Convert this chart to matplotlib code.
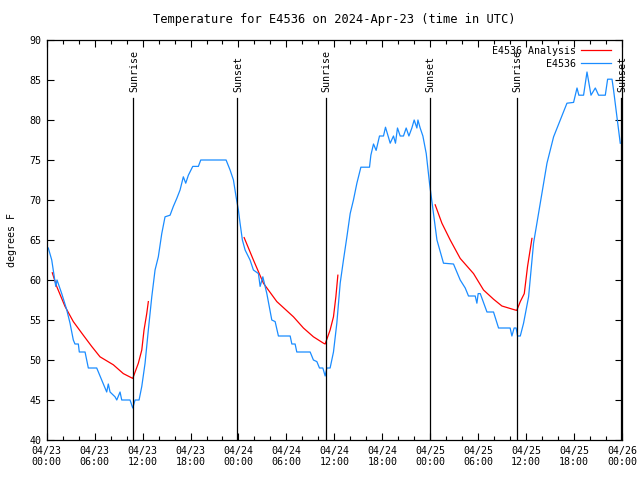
import matplotlib
matplotlib.use('Agg')
from matplotlib import pyplot as plt
from matplotlib.ticker import MultipleLocator

# observed temperature (hours since 04/23 00:00 UTC, deg F)
obs_hours = [0.2, 0.63, 0.83, 1.13, 1.29, 1.88, 2.5, 2.92, 3.33, 3.54, 3.96, 4.08, 4.8, 5.21,
             6.26, 6.67, 7.09, 7.51, 7.71, 7.93, 8.55, 8.77, 9.18, 9.39, 10.43, 10.77, 11.06,
             11.56, 11.9, 12.31, 12.72, 13.15, 13.56, 13.97, 14.4, 14.81, 15.44, 15.85, 16.28,
             16.69, 17.1, 17.4, 17.73, 18.28, 18.98, 19.28, 22.45, 22.95, 23.37, 23.7, 23.99,
             24.2, 24.49, 24.83, 25.45, 25.87, 26.5, 26.71, 27.05, 27.55, 28.17, 28.59, 29.0,
             30.47, 30.68, 31.09, 31.3, 32.97, 33.38, 33.81, 34.14, 34.56, 34.85, 35.06, 35.47,
             35.89, 36.31, 36.73, 37.14, 37.57, 37.98, 38.39, 38.82, 39.32, 40.4, 40.57, 40.9,
             41.23, 41.65, 42.15, 42.4, 42.99, 43.4, 43.65, 43.9, 44.24, 44.65, 44.99, 45.33,
             45.7, 45.99, 46.33, 46.46, 46.74, 47.08, 47.5, 47.78, 47.91, 48.62, 48.84, 49.66,
             50.91, 51.75, 52.38, 52.79, 53.63, 53.84, 54.0, 54.26, 55.1, 55.92, 56.55, 58.0,
             58.22, 58.5, 58.75, 58.93, 59.27, 59.68, 60.31, 60.93, 61.77, 62.61, 63.44, 64.28,
             65.11, 65.94, 66.37, 66.6, 67.19, 67.62, 68.12, 68.66, 69.07, 69.91, 70.2, 70.75,
             70.95, 71.37, 71.78]
obs_temp = [64, 62.5, 61.2, 59.2, 60, 58.3, 56.3, 54.6, 52.5, 52, 52, 51, 51, 49,
            49, 48, 47, 46, 47, 46, 45.4, 45, 46, 45, 45, 44, 45,
            45, 46.7, 49.6, 53.75, 57.9, 61.25, 62.9, 65.8, 67.9, 68.1, 69.2, 70.2,
            71.25, 72.9, 72.1, 73.1, 74.2, 74.2, 75, 75, 73.75, 72.5, 70.4, 68.75,
            67.1, 65, 63.75, 62.5, 61.25, 60.8, 59.2, 60.4, 58.3, 55, 54.8, 53,
            53, 52, 52, 51, 51, 50, 49.8, 49, 49, 48, 49, 49,
            51, 54.6, 59.6, 62.5, 65.4, 68.3, 70, 72.1, 74.1, 74.1, 75.6, 77,
            76.2, 78, 78, 79.1, 77.1, 78, 77.1, 79, 78, 78, 79, 78,
            79, 80, 79, 80, 79, 78, 75.8, 73.3, 72.1, 66.7, 65, 62.1,
            62, 60, 59, 58, 58, 57.1, 58.3, 58.3, 56, 56, 54, 54,
            53, 54, 54, 53, 53, 54.6, 57.9, 64.6, 69.6, 74.6, 77.9, 80,
            82.1, 82.2, 84, 83.1, 83.1, 86, 83.1, 84, 83.1, 83.1, 85.1, 85.1,
            83.7, 80.4, 77.1]

# analysis curves, one per night
ana1_hours = [0.7, 1.25, 2.29, 3.33, 4.58, 5.63, 6.67, 8.34, 9.59, 10.77, 11.47, 11.9, 12.18, 12.52, 12.72]
ana1_temp = [60.9, 59.2, 56.7, 54.8, 53.1, 51.7, 50.4, 49.4, 48.3, 47.7, 49.6, 51.25, 53.75, 55.8, 57.3]
ana2_hours = [24.71, 25.87, 27.12, 28.8, 30.88, 32.13, 33.38, 34.64, 34.85, 35.47, 35.89, 36.19, 36.44]
ana2_temp = [65.3, 62.5, 59.6, 57.3, 55.4, 54, 52.9, 52.1, 52.0, 53.75, 55.4, 57.9, 60.6]
ana3_hours = [48.62, 49.46, 50.5, 51.75, 53.42, 54.67, 55.92, 56.97, 58.63, 58.83, 59.27, 59.77, 60.18, 60.73]
ana3_temp = [69.4, 67.1, 65, 62.7, 60.8, 58.75, 57.6, 56.75, 56.25, 56.2, 57.3, 58.3, 61.7, 65.2]

sun_hours = [10.85, 23.87, 34.93, 47.91, 58.8, 71.9]
sun_names = ['Sunrise', 'Sunset', 'Sunrise', 'Sunset', 'Sunrise', 'Sunset']

xtick_hours = [0, 6, 12, 18, 24, 30, 36, 42, 48, 54, 60, 66, 72]
xtick_labels = ['04/23\n00:00', '04/23\n06:00', '04/23\n12:00', '04/23\n18:00',
                '04/24\n00:00', '04/24\n06:00', '04/24\n12:00', '04/24\n18:00',
                '04/25\n00:00', '04/25\n06:00', '04/25\n12:00', '04/25\n18:00',
                '04/26\n00:00']

plt.rcParams['font.family'] = 'DejaVu Sans Mono'
plt.rcParams['font.size'] = 7.2

fig = plt.figure(figsize=(6.4, 4.8), dpi=100)
ax = fig.add_axes([46.7 / 640, 40 / 480, 575.3 / 640, 400 / 480])

red = '#ff0000'
blue = '#1a8cff'
ax.plot(ana1_hours, ana1_temp, color=red, lw=0.9, label='E4536 Analysis')
ax.plot(ana2_hours, ana2_temp, color=red, lw=0.9)
ax.plot(ana3_hours, ana3_temp, color=red, lw=0.9)
ax.plot(obs_hours, obs_temp, color=blue, lw=0.9, label='E4536')

for h, name in zip(sun_hours, sun_names):
    ax.plot([h, h], [40, 82.7], color='black', lw=0.9)
    ax.text(h + 0.1, 83.5, name, rotation=90, ha='center', va='bottom')

ax.set_xlim(0, 72)
ax.set_ylim(40, 90)
ax.set_xticks(xtick_hours)
ax.set_xticklabels(xtick_labels)
ax.xaxis.set_minor_locator(MultipleLocator(2))
ax.yaxis.set_major_locator(MultipleLocator(5))
ax.tick_params(which='both', direction='in', top=True, right=True, width=0.8)
ax.tick_params(which='major', length=5)
ax.tick_params(which='minor', length=3)
ax.tick_params(axis='x', pad=4)
ax.tick_params(axis='y', pad=4)
for s in ax.spines.values():
    s.set_linewidth(0.9)

ax.set_title('Temperature for E4536 on 2024-Apr-23 (time in UTC)', pad=12)
ax.set_ylabel('degrees F', labelpad=9)

ax.legend(loc='upper right', bbox_to_anchor=(0.981, 0.985), frameon=False, markerfirst=False,
          handlelength=3.0, handletextpad=0.5, labelspacing=0.3, borderpad=0, borderaxespad=0)

fig.savefig('out.png', dpi=100)
